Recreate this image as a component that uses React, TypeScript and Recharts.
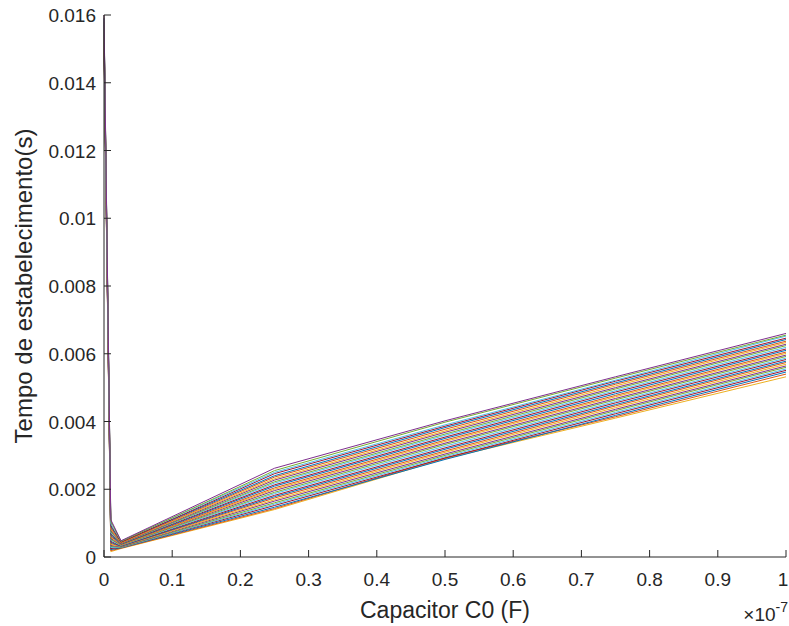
import { LineChart, Line, XAxis, YAxis, Label } from "recharts"

// capacitor sweep, in units of 1e-7 F
const capacitance = [0, 0.01, 0.025, 0.25, 0.5, 0.75, 1]

const xTicks = [0, 0.1, 0.2, 0.3, 0.4, 0.5, 0.6, 0.7, 0.8, 0.9, 1]
const xTickLabels = ["0", "0.1", "0.2", "0.3", "0.4", "0.5", "0.6", "0.7", "0.8", "0.9", "1"]
const yTicks = [0, 0.002, 0.004, 0.006, 0.008, 0.01, 0.012, 0.014, 0.016]
const yTickLabels = ["0", "0.002", "0.004", "0.006", "0.008", "0.01", "0.012", "0.014", "0.016"]

// MATLAB default colour order, starting from purple
const lineColors = ["#7E2F8E", "#77AC30", "#4DBEEE", "#A2142F", "#0072BD", "#D95319", "#EDB120"]

// settling time (s) of each run, one value per capacitance step
const settlingTimes = [
  [0.0160, 0.00110, 0.00048, 0.00262, 0.00402, 0.00532, 0.00660],
  [0.0160, 0.00105, 0.00046, 0.00255, 0.00398, 0.00528, 0.00655],
  [0.0159, 0.00098, 0.00047, 0.00250, 0.00390, 0.00522, 0.00652],
  [0.0159, 0.00094, 0.00044, 0.00246, 0.00386, 0.00519, 0.00646],
  [0.0159, 0.00090, 0.00045, 0.00240, 0.00382, 0.00514, 0.00642],
  [0.0158, 0.00086, 0.00043, 0.00236, 0.00377, 0.00510, 0.00637],
  [0.0158, 0.00082, 0.00042, 0.00231, 0.00372, 0.00505, 0.00633],
  [0.0158, 0.00079, 0.00041, 0.00227, 0.00368, 0.00500, 0.00628],
  [0.0157, 0.00075, 0.00040, 0.00222, 0.00363, 0.00496, 0.00624],
  [0.0157, 0.00071, 0.00040, 0.00218, 0.00359, 0.00491, 0.00619],
  [0.0157, 0.00068, 0.00039, 0.00213, 0.00354, 0.00487, 0.00614],
  [0.0156, 0.00064, 0.00038, 0.00209, 0.00350, 0.00482, 0.00610],
  [0.0156, 0.00061, 0.00037, 0.00204, 0.00345, 0.00477, 0.00605],
  [0.0156, 0.00058, 0.00036, 0.00200, 0.00341, 0.00473, 0.00601],
  [0.0155, 0.00055, 0.00036, 0.00196, 0.00336, 0.00468, 0.00596],
  [0.0155, 0.00052, 0.00035, 0.00191, 0.00332, 0.00464, 0.00592],
  [0.0155, 0.00049, 0.00034, 0.00187, 0.00327, 0.00459, 0.00587],
  [0.0154, 0.00046, 0.00033, 0.00182, 0.00322, 0.00455, 0.00583],
  [0.0154, 0.00043, 0.00032, 0.00178, 0.00318, 0.00450, 0.00578],
  [0.0154, 0.00040, 0.00032, 0.00174, 0.00313, 0.00446, 0.00574],
  [0.0153, 0.00037, 0.00031, 0.00169, 0.00309, 0.00441, 0.00569],
  [0.0153, 0.00034, 0.00030, 0.00165, 0.00304, 0.00436, 0.00564],
  [0.0153, 0.00031, 0.00029, 0.00160, 0.00300, 0.00432, 0.00560],
  [0.0152, 0.00028, 0.00028, 0.00156, 0.00296, 0.00427, 0.00555],
  [0.0152, 0.00025, 0.00028, 0.00152, 0.00292, 0.00423, 0.00551],
  [0.0152, 0.00022, 0.00027, 0.00147, 0.00288, 0.00418, 0.00546],
  [0.0151, 0.00019, 0.00026, 0.00143, 0.00293, 0.00414, 0.00540],
  [0.0151, 0.00016, 0.00025, 0.00140, 0.00290, 0.00410, 0.00532],
]

const data = capacitance.map((c, i) => {
  const row: Record<string, number> = { c }
  settlingTimes.forEach((run, k) => {
    row[`s${k}`] = run[i]
  })
  return row
})

// draw the lowest run first so the top run ends up on top of the spike
const drawOrder = settlingTimes.map((_, k) => k).reverse()

const FONT = '"Liberation Sans", Arial, Helvetica, sans-serif'
const AXIS = "#262626"

const XTick = ({ x, y, payload }: any) => {
  const i = xTicks.indexOf(payload.value)
  // keep the last label inside the frame
  const tx = i === xTicks.length - 1 ? x - 3 : x
  return (
    <g>
      <line x1={x} y1={y} x2={x} y2={y - 7} stroke={AXIS} />
      <text x={tx} y={y + 29} textAnchor="middle" fontSize={19} fontFamily={FONT} fill={AXIS}>
        {xTickLabels[i]}
      </text>
    </g>
  )
}

const YTick = ({ x, y, payload }: any) => (
  <g>
    <line x1={x} y1={y} x2={x + 7} y2={y} stroke={AXIS} />
    <text x={x - 8} y={y + 7} textAnchor="end" fontSize={19} fontFamily={FONT} fill={AXIS}>
      {yTickLabels[yTicks.indexOf(payload.value)]}
    </text>
  </g>
)

export default function App() {
  return (
    <div style={{ position: "absolute", left: 0, top: 0, background: "#fff" }}>
      <LineChart width={789} height={626} data={data} margin={{ top: 15, right: 3, left: 0, bottom: 0 }}>
        <XAxis
          dataKey="c"
          type="number"
          domain={[0, 1]}
          ticks={xTicks}
          interval={0}
          height={69}
          tickSize={0}
          tickMargin={0}
          tickLine={false}
          tick={<XTick />}
          axisLine={{ stroke: AXIS }}
        >
          <Label
            content={({ viewBox }: any) => (
              <g fontFamily={FONT} fill={AXIS}>
                <text x={viewBox.x + viewBox.width / 2} y={viewBox.y + 61} textAnchor="middle" fontSize={23}>
                  Capacitor C0 (F)
                </text>
                <text x={viewBox.x + viewBox.width + 2} y={viewBox.y + 64} textAnchor="end" fontSize={19}>
                  ×10<tspan fontSize={14} dy={-9}>-7</tspan>
                </text>
              </g>
            )}
          />
        </XAxis>
        <YAxis
          type="number"
          domain={[0, 0.016]}
          ticks={yTicks}
          interval={0}
          width={104}
          tickSize={0}
          tickMargin={0}
          tickLine={false}
          tick={<YTick />}
          axisLine={{ stroke: AXIS }}
          allowDataOverflow
        >
          <Label
            content={({ viewBox }: any) => (
              <text
                x={32}
                y={viewBox.y + viewBox.height / 2}
                transform={`rotate(-90 32 ${viewBox.y + viewBox.height / 2})`}
                textAnchor="middle"
                fontSize={24}
                fontFamily={FONT}
                fill={AXIS}
              >
                Tempo de estabelecimento(s)
              </text>
            )}
          />
        </YAxis>
        {drawOrder.map((k) => (
          <Line
            key={k}
            dataKey={`s${k}`}
            type="linear"
            stroke={lineColors[k % lineColors.length]}
            strokeWidth={1}
            dot={false}
            activeDot={false}
            isAnimationActive={false}
          />
        ))}
      </LineChart>
    </div>
  )
}
